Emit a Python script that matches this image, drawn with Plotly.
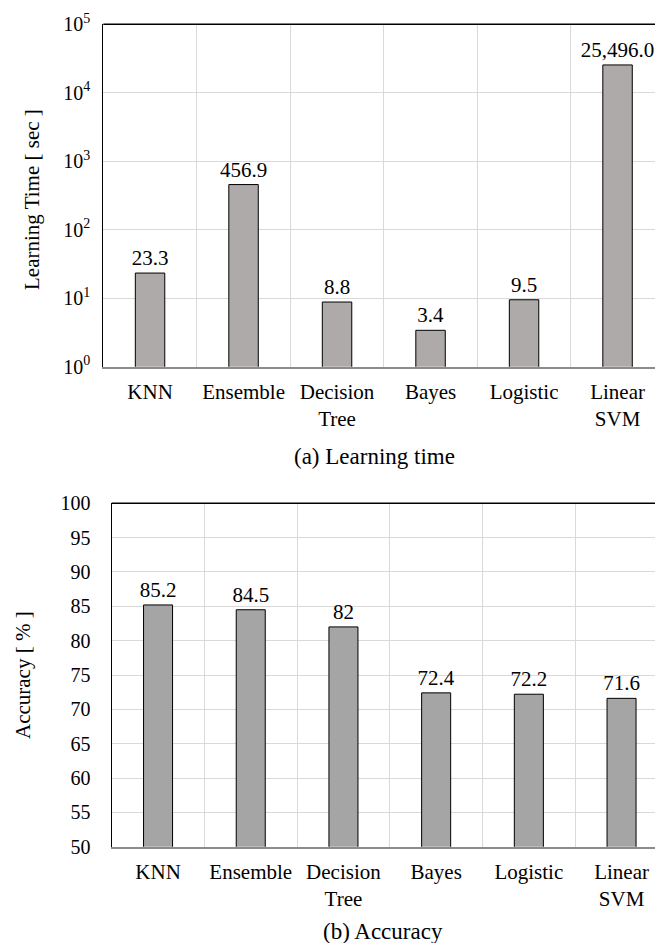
import plotly.graph_objects as go
from plotly.subplots import make_subplots

categories = ["KNN", "Ensemble", "Decision<br>Tree", "Bayes", "Logistic", "Linear<br>SVM"]
learning_time = [23.3, 456.9, 8.8, 3.4, 9.5, 25496.0]
learning_time_labels = ["23.3", "456.9", "8.8", "3.4", "9.5", "25,496.0"]
accuracy = [85.2, 84.5, 82, 72.4, 72.2, 71.6]
accuracy_labels = ["85.2", "84.5", "82", "72.4", "72.2", "71.6"]
log_tick_vals = [1, 10, 100, 1000, 10000, 100000]
log_tick_text = ["10<sup>0</sup>", "10<sup>1</sup>", "10<sup>2</sup>", "10<sup>3</sup>", "10<sup>4</sup>", "10<sup>5</sup>"]
acc_tick_vals = [50, 55, 60, 65, 70, 75, 80, 85, 90, 95, 100]

W, H = 655, 943
FONT = "Liberation Serif"


def px(x):
    return x / W


def py(y):
    return 1 - y / H


tf = dict(family=FONT, size=21, color="black")
ytf = dict(family=FONT, size=20, color="black")
cf = dict(family=FONT, size=23, color="black")

fig = make_subplots(rows=2, cols=1)

fig.add_trace(go.Bar(
    x=categories, y=learning_time, text=learning_time_labels,
    textposition="outside", cliponaxis=False, constraintext="none",
    textfont=tf, outsidetextfont=tf, hoverinfo="skip",
    marker=dict(color="#aeaaaa", line=dict(color="black", width=1)),
    width=0.315, showlegend=False,
), row=1, col=1)

fig.add_trace(go.Bar(
    x=categories, y=accuracy, text=accuracy_labels,
    textposition="outside", cliponaxis=True, constraintext="none",
    textfont=tf, outsidetextfont=tf, hoverinfo="skip",
    marker=dict(color="#a5a5a5", line=dict(color="black", width=1)),
    width=0.313, showlegend=False,
), row=2, col=1)

# geometry (page pixels)
top_left, top_w, top_y0, top_y1 = 103.3, 93.5, 24.3, 366.7
bot_left, bot_w, bot_y0, bot_y1 = 111.7, 92.7, 503.3, 846.7


def xr(left, w):
    return [-0.5, -0.5 + (W - left) / w]


common_x = dict(
    type="category", tickson="boundaries", showgrid=True, gridcolor="#d9d9d9", gridwidth=1,
    showline=True, linecolor="#8c8c8c", linewidth=1.5, ticks="",
    tickfont=tf, ticklabelstandoff=5,
    automargin=False, fixedrange=True,
)
fig.update_xaxes(**common_x, domain=[px(top_left), 1], range=xr(top_left, top_w), row=1, col=1)
fig.update_xaxes(**common_x, domain=[px(bot_left), 1], range=xr(bot_left, bot_w), row=2, col=1)

common_y = dict(
    showgrid=True, gridcolor="#d9d9d9", gridwidth=1, zeroline=False,
    showline=True, linecolor="black", linewidth=1.2, ticks="",
    tickfont=ytf, automargin=False, fixedrange=True,
)
fig.update_yaxes(**common_y, type="log", range=[0, 5], tickvals=log_tick_vals, ticktext=log_tick_text,
                 domain=[py(top_y1), py(top_y0)], ticklabelstandoff=8, row=1, col=1)
fig.update_yaxes(**common_y, range=[50, 100], tickvals=acc_tick_vals,
                 domain=[py(bot_y1), py(bot_y0)], ticklabelstandoff=16, row=2, col=1)

# top border of each plot area
for xref, yref in [("x domain", "y domain"), ("x2 domain", "y2 domain")]:
    fig.add_shape(type="line", xref=xref, yref=yref, x0=0, x1=1, y0=1, y1=1,
                  line=dict(color="black", width=1.5))

ann = [
    dict(text="Learning Time [ sec ]", x=px(32), y=py(200), textangle=-90, font=tf),
    dict(text="Accuracy [ % ]", x=px(23), y=py(675), textangle=-90, font=tf),
    dict(text="(a) Learning time", x=px(374), y=py(456), font=cf),
    dict(text="(b) Accuracy", x=px(383), y=py(931), font=cf),
]
for a in ann:
    a.update(xref="paper", yref="paper", showarrow=False, xanchor="center", yanchor="middle")

fig.update_layout(
    width=W, height=H, margin=dict(l=0, r=0, t=0, b=0),
    paper_bgcolor="white", plot_bgcolor="white",
    font=tf, annotations=ann, showlegend=False, hovermode=False,
)

fig.write_html(
    "out.html",
    config={"displayModeBar": False},
    post_script="document.body.style.margin='0';document.body.style.overflow='hidden';",
)
